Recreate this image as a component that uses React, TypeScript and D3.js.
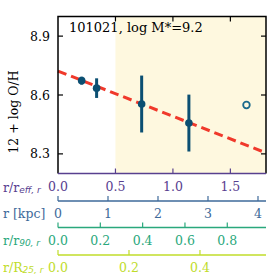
import React, { useEffect, useRef } from 'react';
import * as d3 from 'd3';

// radial metallicity profile
const radius = [0.206, 0.336, 0.728, 1.139];
const oh = [8.673, 8.635, 8.554, 8.457];
const ohErr = [0.02, 0.05, 0.145, 0.145];
const outlierR = [1.64];
const outlierOH = [8.549];
const fitR = [0, 1.81];
const fitOH = [8.722, 8.305];

const yTicks = [8.3, 8.6, 8.9];
const effTicks = [0, 0.5, 1.0, 1.5];
const kpcTicks = [0, 1, 2, 3, 4];
const r90Ticks = [0, 0.2, 0.4, 0.6, 0.8];
const r25Ticks = [0, 0.2, 0.4];

const W = 277;
const H = 277;
const serif = '"DejaVu Serif", serif';

const App: React.FC = () => {
  const svgRef = useRef<SVGSVGElement>(null);

  useEffect(() => {
    if (!svgRef.current) return;
    const svg = d3.select(svgRef.current);
    svg.selectAll('*').remove();

    const left = 58, right = 266, top = 16.5, bottom = 173.5;

    const x = d3.scaleLinear().domain([0, 1.81]).range([left, right]);
    const y = d3.scaleLinear().domain([8.2, 9.0]).range([bottom, top]);

    // shaded outer region
    svg.append('rect')
      .attr('x', x(0.5)).attr('y', top)
      .attr('width', right - x(0.5)).attr('height', bottom - top)
      .attr('fill', '#fef8df');

    // inward ticks
    const g = svg.append('g');
    yTicks.forEach(t => {
      g.append('line').attr('x1', left).attr('x2', left + 5).attr('y1', y(t)).attr('y2', y(t)).attr('stroke', '#000').attr('stroke-width', 1.2);
      g.append('line').attr('x1', right).attr('x2', right - 5).attr('y1', y(t)).attr('y2', y(t)).attr('stroke', '#000').attr('stroke-width', 1.2);
      g.append('text').attr('x', left - 8).attr('y', y(t)).attr('text-anchor', 'end').attr('dominant-baseline', 'central')
        .attr('font-family', serif).attr('font-size', 12.5).attr('fill', '#000').text(d3.format('.1f')(t));
    });
    effTicks.filter(t => t > 0).forEach(t => {
      g.append('line').attr('x1', x(t)).attr('x2', x(t)).attr('y1', top).attr('y2', top + 5).attr('stroke', '#000').attr('stroke-width', 1.2);
    });

    // fit line
    const line = d3.line<number>().x(d => x(d)).y((_, i) => y(fitOH[i]));
    svg.append('path').datum(fitR).attr('d', line)
      .attr('fill', 'none').attr('stroke', '#f0392b').attr('stroke-width', 3).attr('stroke-dasharray', '9,5');

    // error bars + points
    const col = '#0b4f72';
    radius.forEach((r, i) => {
      svg.append('line').attr('x1', x(r)).attr('x2', x(r))
        .attr('y1', y(oh[i] - ohErr[i])).attr('y2', y(oh[i] + ohErr[i]))
        .attr('stroke', col).attr('stroke-width', 3);
      svg.append('circle').attr('cx', x(r)).attr('cy', y(oh[i])).attr('r', 3.8).attr('fill', col);
    });
    outlierR.forEach((r, i) => {
      svg.append('circle').attr('cx', x(r)).attr('cy', y(outlierOH[i])).attr('r', 3.3)
        .attr('fill', 'none').attr('stroke', '#1a6a8c').attr('stroke-width', 1.8);
    });

    // frame
    svg.append('path').attr('d', `M${left},${bottom}V${top}H${right}V${bottom}`)
      .attr('fill', 'none').attr('stroke', '#000').attr('stroke-width', 1.5);

    svg.append('text').attr('x', 69).attr('y', 31.5).attr('font-family', serif).attr('font-size', 13)
      .attr('fill', '#000').text('101021, log M*=9.2');

    svg.append('text').attr('transform', `translate(18,${(top + bottom) / 2 + 17}) rotate(-90)`)
      .attr('text-anchor', 'middle').attr('font-family', serif).attr('font-size', 12.5).attr('fill', '#000')
      .text('12 + log O/H');

    // stacked radial axes
    const axes = [
      { ticks: effTicks, max: 1.81, lineY: 173.5, labelY: 186.5, color: '#58408f', fmt: '.1f', name: 'r/r', sub: 'eff, r', frame: true },
      { ticks: kpcTicks, max: 4.16, lineY: 201, labelY: 213, color: '#3e6a9a', fmt: 'd', name: 'r [kpc]', sub: '', frame: false },
      { ticks: r90Ticks, max: 0.983, lineY: 227.5, labelY: 240, color: '#2aa87c', fmt: '.1f', name: 'r/r', sub: '90, r', frame: false },
      { ticks: r25Ticks, max: 0.586, lineY: 255, labelY: 267, color: '#c0dc2a', fmt: '.1f', name: 'r/R', sub: '25, r', frame: false },
    ];
    axes.forEach(a => {
      const s = d3.scaleLinear().domain([0, a.max]).range([left, right]);
      const ag = svg.append('g');
      ag.append('line').attr('x1', left).attr('x2', right).attr('y1', a.lineY).attr('y2', a.lineY)
        .attr('stroke', a.color).attr('stroke-width', 1.5);
      a.ticks.forEach(t => {
        if (!(a.frame && t === 0)) {
          ag.append('line').attr('x1', s(t)).attr('x2', s(t)).attr('y1', a.lineY).attr('y2', a.lineY - 5)
            .attr('stroke', a.color).attr('stroke-width', 1.2);
        }
        ag.append('text').attr('x', s(t)).attr('y', a.labelY).attr('text-anchor', 'middle').attr('dominant-baseline', 'central')
          .attr('font-family', serif).attr('font-size', 12.5).attr('fill', a.color).text(d3.format(a.fmt)(t));
      });
      const lab = ag.append('text').attr('x', 3).attr('y', a.labelY).attr('dominant-baseline', 'central')
        .attr('font-family', serif).attr('font-size', 12.5).attr('fill', a.color);
      lab.append('tspan').text(a.name);
      if (a.sub) {
        lab.append('tspan').attr('dy', 3).attr('font-family', '"DejaVu Sans", sans-serif')
          .attr('font-style', 'italic').attr('font-size', 9).text(a.sub);
      }
    });
  }, []);

  return (
    <svg ref={svgRef} width={W} height={H}
      style={{ position: 'fixed', left: 0, top: 0, background: '#fff' }} />
  );
};

export default App;
